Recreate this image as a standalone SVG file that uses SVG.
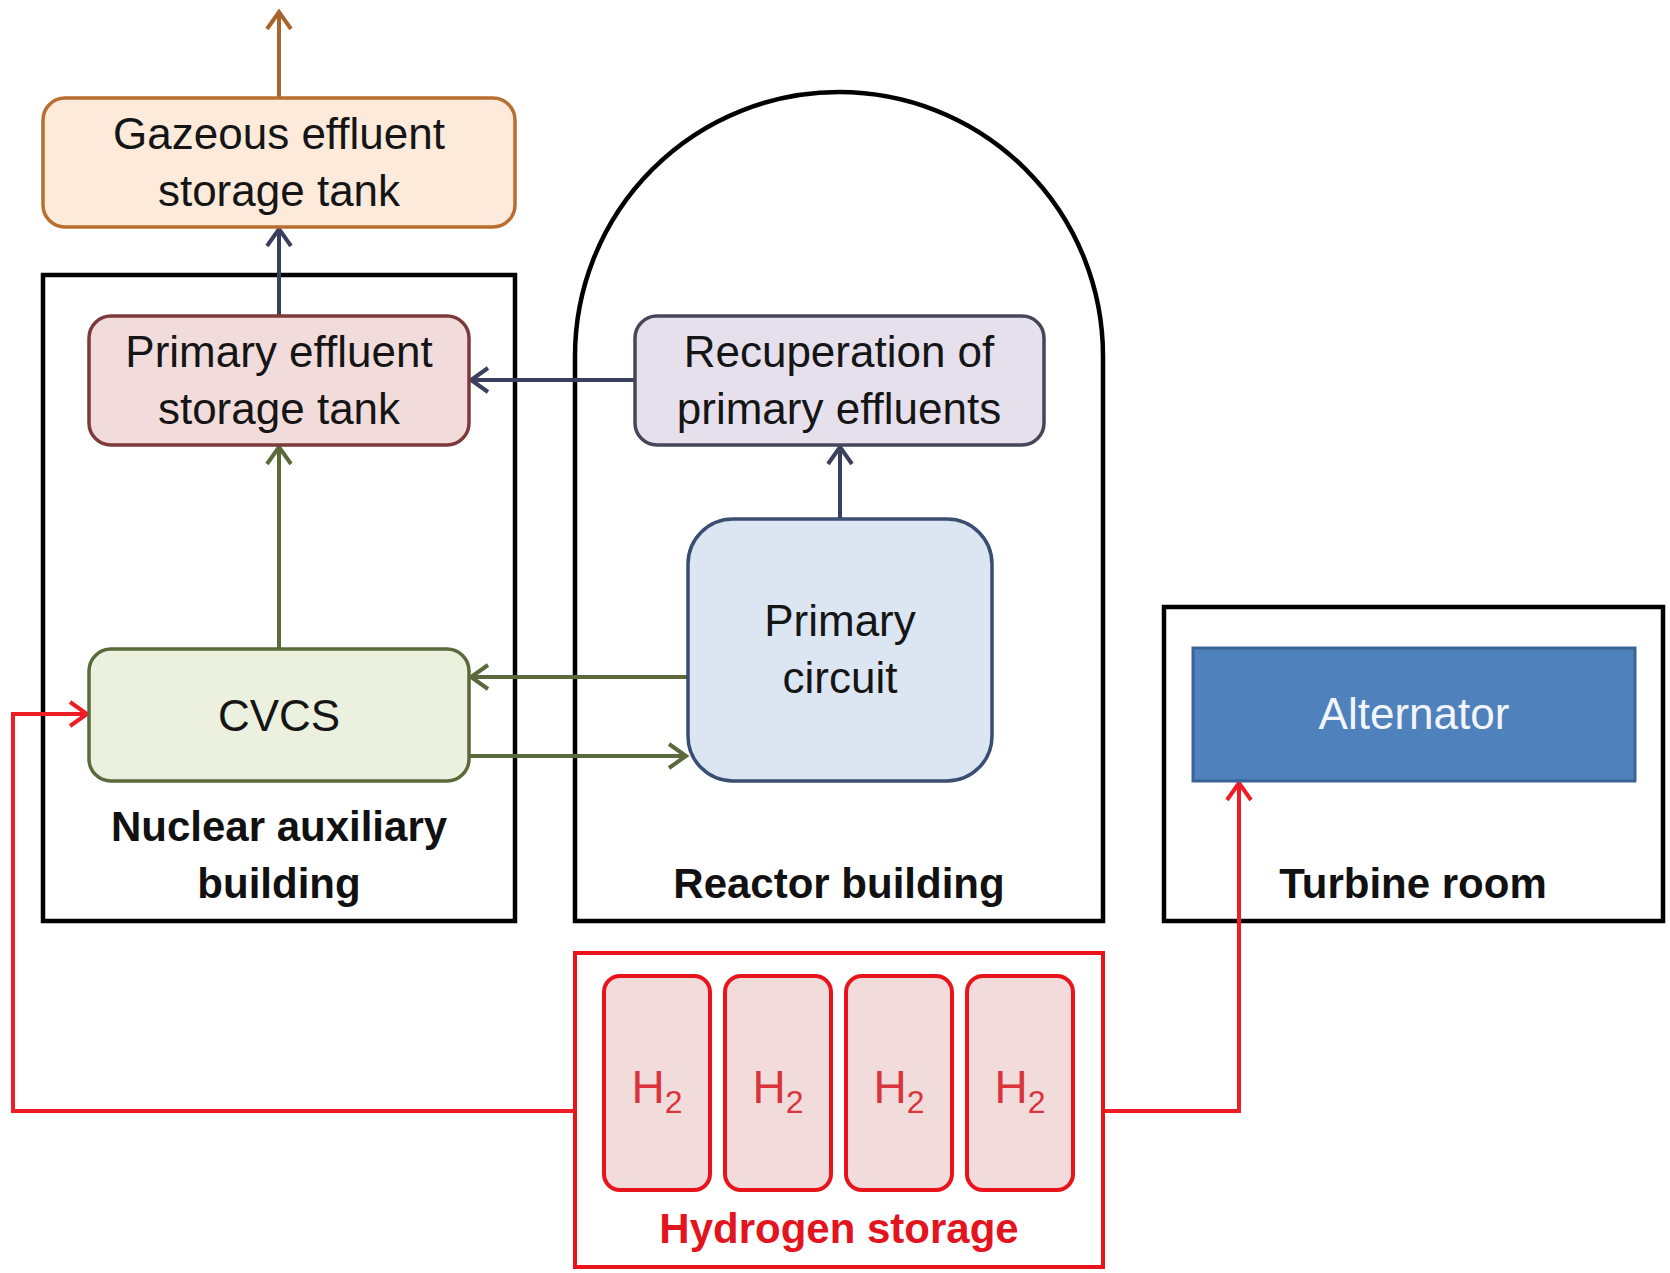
<svg xmlns="http://www.w3.org/2000/svg" width="1670" height="1273" viewBox="0 0 1670 1273">
<style>
  text { font-family: "Liberation Sans", Arial, sans-serif; text-anchor: middle; }
  .lbl { font-size: 44px; fill: #151515; }
  .bld { font-size: 42px; font-weight: bold; fill: #111; }
  .bldg { fill: none; stroke: #000; stroke-width: 4.5; }
  .conn { fill: none; stroke-width: 4; }
  .h2 { font-size: 46px; fill: #D9343C; }
  .h2s { font-size: 32px; }
</style>
<defs>
  <marker id="aBrown" markerUnits="userSpaceOnUse" markerWidth="40" markerHeight="40" viewBox="-20 -20 40 40" refX="0" refY="0" orient="auto">
    <path d="M-17,-12 L0,0 L-17,12" fill="none" stroke="#A8642C" stroke-width="4"/>
  </marker>
  <marker id="aNavy" markerUnits="userSpaceOnUse" markerWidth="40" markerHeight="40" viewBox="-20 -20 40 40" refX="0" refY="0" orient="auto">
    <path d="M-17,-12 L0,0 L-17,12" fill="none" stroke="#3B3F5E" stroke-width="4"/>
  </marker>
  <marker id="aGreen" markerUnits="userSpaceOnUse" markerWidth="40" markerHeight="40" viewBox="-20 -20 40 40" refX="0" refY="0" orient="auto">
    <path d="M-17,-12 L0,0 L-17,12" fill="none" stroke="#5A6A3A" stroke-width="4"/>
  </marker>
  <marker id="aRed" markerUnits="userSpaceOnUse" markerWidth="40" markerHeight="40" viewBox="-20 -20 40 40" refX="0" refY="0" orient="auto">
    <path d="M-17,-12 L0,0 L-17,12" fill="none" stroke="#EE1C25" stroke-width="4"/>
  </marker>
</defs>
<rect width="1670" height="1273" fill="#fff"/>

<g id="nuclear-auxiliary-building">
  <rect class="bldg" x="43" y="275" width="472" height="646"/>
  <text class="bld" x="279" y="841">Nuclear auxiliary</text>
  <text class="bld" x="279" y="898">building</text>
</g>
<g id="reactor-building">
  <path class="bldg" d="M575,921 L575,356 A264,264 0 0 1 1103,356 L1103,921 Z"/>
  <text class="bld" x="839" y="898">Reactor building</text>
</g>
<g id="turbine-room">
  <rect class="bldg" x="1164" y="607" width="499" height="314"/>
  <text class="bld" x="1413" y="898">Turbine room</text>
</g>

<g id="connectors">
  <line class="conn" stroke="#A8642C" x1="279" y1="98" x2="279" y2="12" marker-end="url(#aBrown)"/>
  <line class="conn" stroke="#3B3F5E" x1="279" y1="316" x2="279" y2="229" marker-end="url(#aNavy)"/>
  <line class="conn" stroke="#3B3F5E" x1="635" y1="380" x2="471" y2="380" marker-end="url(#aNavy)"/>
  <line class="conn" stroke="#3B3F5E" x1="840" y1="519" x2="840" y2="447" marker-end="url(#aNavy)"/>
  <line class="conn" stroke="#5A6A3A" x1="279" y1="649" x2="279" y2="447" marker-end="url(#aGreen)"/>
  <line class="conn" stroke="#5A6A3A" x1="688" y1="677" x2="471" y2="677" marker-end="url(#aGreen)"/>
  <line class="conn" stroke="#5A6A3A" x1="469" y1="756" x2="686" y2="756" marker-end="url(#aGreen)"/>
  <polyline class="conn" stroke="#EE1C25" points="575,1111 13,1111 13,714 87,714" marker-end="url(#aRed)"/>
  <polyline class="conn" stroke="#EE1C25" points="1103,1111 1239,1111 1239,783" marker-end="url(#aRed)"/>
</g>

<g id="gazeous-effluent-storage-tank">
  <rect x="43" y="98" width="472" height="129" rx="22" fill="#FDEADA" stroke="#B86E2E" stroke-width="3.5"/>
  <text class="lbl" x="279" y="149">Gazeous effluent</text>
  <text class="lbl" x="279" y="206">storage tank</text>
</g>
<g id="primary-effluent-storage-tank">
  <rect x="89" y="316" width="380" height="129" rx="22" fill="#F2DCDB" stroke="#7E3A3A" stroke-width="3.5"/>
  <text class="lbl" x="279" y="367">Primary effluent</text>
  <text class="lbl" x="279" y="424">storage tank</text>
</g>
<g id="recuperation-of-primary-effluents">
  <rect x="635" y="316" width="409" height="129" rx="22" fill="#E6E0EC" stroke="#45465A" stroke-width="3.5"/>
  <text class="lbl" x="839" y="367">Recuperation of</text>
  <text class="lbl" x="839" y="424">primary effluents</text>
</g>
<g id="primary-circuit">
  <rect x="688" y="519" width="304" height="262" rx="45" fill="#DCE6F2" stroke="#3A4E72" stroke-width="3.5"/>
  <text class="lbl" x="840" y="636">Primary</text>
  <text class="lbl" x="840" y="693">circuit</text>
</g>
<g id="cvcs">
  <rect x="89" y="649" width="380" height="132" rx="22" fill="#EBF1DE" stroke="#5A6A3A" stroke-width="3.5"/>
  <text class="lbl" x="279" y="731">CVCS</text>
</g>
<g id="alternator">
  <rect x="1193" y="648" width="442" height="133" fill="#4F81BD" stroke="#3A6496" stroke-width="3"/>
  <text class="lbl" x="1414" y="729" style="fill:#F2F6FB">Alternator</text>
</g>
<g id="hydrogen-storage">
  <rect x="575" y="953" width="528" height="314" fill="#fff" stroke="#E8131B" stroke-width="4"/>
  <rect x="604" y="976" width="106" height="214" rx="16" fill="#F2DCDB" stroke="#E8131B" stroke-width="4"/>
  <rect x="725" y="976" width="106" height="214" rx="16" fill="#F2DCDB" stroke="#E8131B" stroke-width="4"/>
  <rect x="846" y="976" width="106" height="214" rx="16" fill="#F2DCDB" stroke="#E8131B" stroke-width="4"/>
  <rect x="967" y="976" width="106" height="214" rx="16" fill="#F2DCDB" stroke="#E8131B" stroke-width="4"/>
  <text class="h2" x="657" y="1103">H<tspan class="h2s" dy="10">2</tspan></text>
  <text class="h2" x="778" y="1103">H<tspan class="h2s" dy="10">2</tspan></text>
  <text class="h2" x="899" y="1103">H<tspan class="h2s" dy="10">2</tspan></text>
  <text class="h2" x="1020" y="1103">H<tspan class="h2s" dy="10">2</tspan></text>
  <text class="bld" x="839" y="1243" style="fill:#E3141E">Hydrogen storage</text>
</g>
</svg>
